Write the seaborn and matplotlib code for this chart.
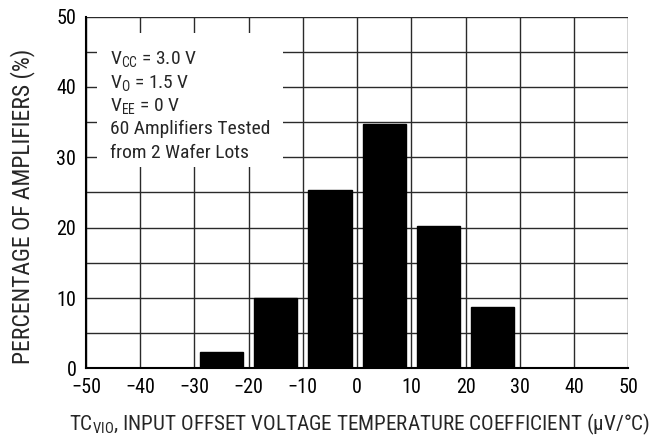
import matplotlib
matplotlib.use("Agg")
import matplotlib.pyplot as plt
from matplotlib.patches import Rectangle
import seaborn as sns
import numpy as np

# ----------------------------
# Data
# ----------------------------
bin_centers = [-25, -15, -5, 5, 15, 25]
percent = [2.4, 10.0, 25.3, 34.7, 20.3, 8.7]
bin_edges = [-30, -20, -10, 0, 10, 20, 30]
x_ticks = [-50, -40, -30, -20, -10, 0, 10, 20, 30, 40, 50]
y_ticks = [0, 10, 20, 30, 40, 50]

note_lines = [
    r"V$_{\mathregular{CC}}$ = 3.0 V",
    r"V$_{\mathregular{O}}$ = 1.5 V",
    r"V$_{\mathregular{EE}}$ = 0 V",
    "60 Amplifiers Tested",
    "from 2 Wafer Lots",
]

sns.set_style("white")
plt.rcParams["font.family"] = ["Nimbus Sans Narrow", "Liberation Sans Narrow", "Arial Narrow",
                               "Roboto Condensed", "Archivo Narrow", "PT Sans Narrow",
                               "Liberation Sans", "DejaVu Sans"]
plt.rcParams["mathtext.default"] = "regular"

fig = plt.figure(figsize=(6.54, 4.36), dpi=100)
ax = fig.add_axes([0.1315, 0.155, 0.829, 0.807])

sns.histplot(x=bin_centers, weights=percent, bins=bin_edges, shrink=0.8,
             color="black", edgecolor="black", alpha=1, ax=ax, zorder=3)

# grid: every 10 on x, every 5 on y
ax.set_xlim(-50, 50)
ax.set_ylim(0, 50)
ax.set_xticks(x_ticks)
ax.set_xticklabels([str(v).replace("-", "\u2212") for v in x_ticks])
ax.set_yticks(y_ticks)
ax.set_yticks(np.arange(0, 51, 5), minor=True)
ax.grid(True, which="major", color="#2a2a2a", linewidth=1.0, zorder=0)
ax.grid(True, which="minor", axis="y", color="#2a2a2a", linewidth=1.0, zorder=0)
ax.set_axisbelow(True)

ax.tick_params(axis="both", which="both", length=0, labelsize=14.5, colors="black")
ax.tick_params(axis="x", pad=7)
ax.tick_params(axis="y", pad=7)

for side in ["top", "right"]:
    ax.spines[side].set_visible(False)
for side in ["left", "bottom"]:
    ax.spines[side].set_color("black")
    ax.spines[side].set_linewidth(1.5)

ax.set_xlabel(r"TC$_{\mathregular{VIO}}$, INPUT OFFSET VOLTAGE TEMPERATURE COEFFICIENT ($\mu$V/°C)",
              fontsize=15.2)
ax.set_ylabel("PERCENTAGE OF AMPLIFIERS (%)", fontsize=17)
ax.xaxis.set_label_coords(0.504, -0.122)
ax.yaxis.set_label_coords(-0.094, 0.46)

# white box behind the conditions note
ax.add_patch(Rectangle((-48, 28.6), 34.3, 19.1, facecolor="white", edgecolor="none", zorder=2))
for i, line in enumerate(note_lines):
    ax.text(-45.6, 43.2 - 3.31 * i, line, fontsize=14, va="baseline", ha="left", zorder=4)

fig.savefig("out.png", dpi=100)
